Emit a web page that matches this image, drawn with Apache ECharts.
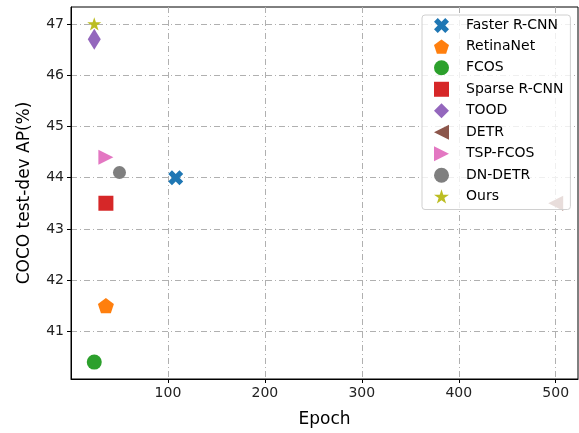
<!DOCTYPE html>
<html>
<head>
<meta charset="utf-8">
<script src="https://cdn.jsdelivr.net/npm/echarts@6/dist/echarts.min.js"></script>
<style>html,body{margin:0;padding:0;background:#fff;}#c{width:579px;height:433px;}</style>
</head>
<body>
<div id="c"></div>
<script>
// ---- data ----
const methods = ['Faster R-CNN','RetinaNet','FCOS','Sparse R-CNN','TOOD','DETR','TSP-FCOS','DN-DETR','Ours'];
const epochs  = [108, 36, 24, 36, 24, 500, 36, 50, 24];
const apValues = [44.0, 41.5, 40.4, 43.5, 46.7, 43.5, 44.4, 44.1, 47.0];
const xTicks = [100, 200, 300, 400, 500];
const yTicks = [41, 42, 43, 44, 45, 46, 47];

const colors = ['#1f77b4','#ff7f0e','#2ca02c','#d62728','#9467bd','#8c564b','#e377c2','#7f7f7f','#bcbd22'];
const symbols = [
  'path://M0,2.5 L2.5,0 L5,2.5 L7.5,0 L10,2.5 L7.5,5 L10,7.5 L7.5,10 L5,7.5 L2.5,10 L0,7.5 L2.5,5 Z',
  'path://M0,-1 L0.9511,-0.309 L0.5878,0.809 L-0.5878,0.809 L-0.9511,-0.309 Z',
  'circle',
  'rect',
  'diamond',
  'path://M10,0 L10,10 L0,5 Z',
  'path://M0,0 L10,5 L0,10 Z',
  'circle',
  'path://M0,-1 L0.2245,-0.309 L0.9511,-0.309 L0.3633,0.118 L0.5878,0.809 L0,0.382 L-0.5878,0.809 L-0.3633,0.118 L-0.9511,-0.309 L-0.2245,-0.309 Z'
];
const sizes = [15, 16, 15, 15, [13, 21], 15, 15, 13, 14];

const chart = echarts.init(document.getElementById('c'), null, {renderer: 'canvas'});
const gridLine = {show: true, lineStyle: {color: '#b0b0b0', width: 1, type: [6, 3, 1, 3]}};
const font = 'DejaVu Sans';

chart.setOption({
  animation: false,
  backgroundColor: '#fff',
  grid: {left: 71, top: 7, right: 1, bottom: 50, show: true, borderColor: '#000', borderWidth: 1, backgroundColor: 'transparent'},
  xAxis: {
    type: 'value', min: 0, max: 523,
    name: 'Epoch', nameLocation: 'middle', nameGap: 32,
    nameTextStyle: {fontFamily: font, fontSize: 17, color: '#000'},
    axisLine: {show: true, onZero: false, lineStyle: {color: '#000'}},
    axisTick: {show: true, length: 4, customValues: xTicks, lineStyle: {color: '#000'}},
    axisLabel: {customValues: xTicks, fontFamily: font, fontSize: 14, color: '#222', margin: 7},
    splitLine: gridLine
  },
  yAxis: {
    type: 'value', min: 40.07, max: 47.33,
    name: 'COCO test-dev AP(%)', nameLocation: 'middle', nameGap: 38, nameRotate: 90,
    nameTextStyle: {fontFamily: font, fontSize: 17, color: '#000'},
    axisLine: {show: true, onZero: false, lineStyle: {color: '#000'}},
    axisTick: {show: true, length: 4, customValues: yTicks, lineStyle: {color: '#000'}},
    axisLabel: {customValues: yTicks, fontFamily: font, fontSize: 14, color: '#222', margin: 7},
    splitLine: gridLine
  },
  legend: {
    orient: 'vertical', left: 422, top: 15,
    padding: [3, 7, 6, 12],
    itemWidth: 15, itemHeight: 15, itemGap: 6.5,
    backgroundColor: 'rgba(255,255,255,0.8)',
    borderColor: '#d0d0d0', borderWidth: 1, borderRadius: 3,
    textStyle: {fontFamily: font, fontSize: 14, color: '#000', padding: [0, 0, 0, 12]},
    data: methods
  },
  series: methods.map((m, i) => ({
    name: m, type: 'scatter',
    data: [[epochs[i], apValues[i]]],
    symbol: symbols[i], symbolSize: sizes[i], symbolKeepAspect: i !== 4,
    itemStyle: {color: colors[i], opacity: 1},
    z: 2
  }))
});
</script>
</body>
</html>
